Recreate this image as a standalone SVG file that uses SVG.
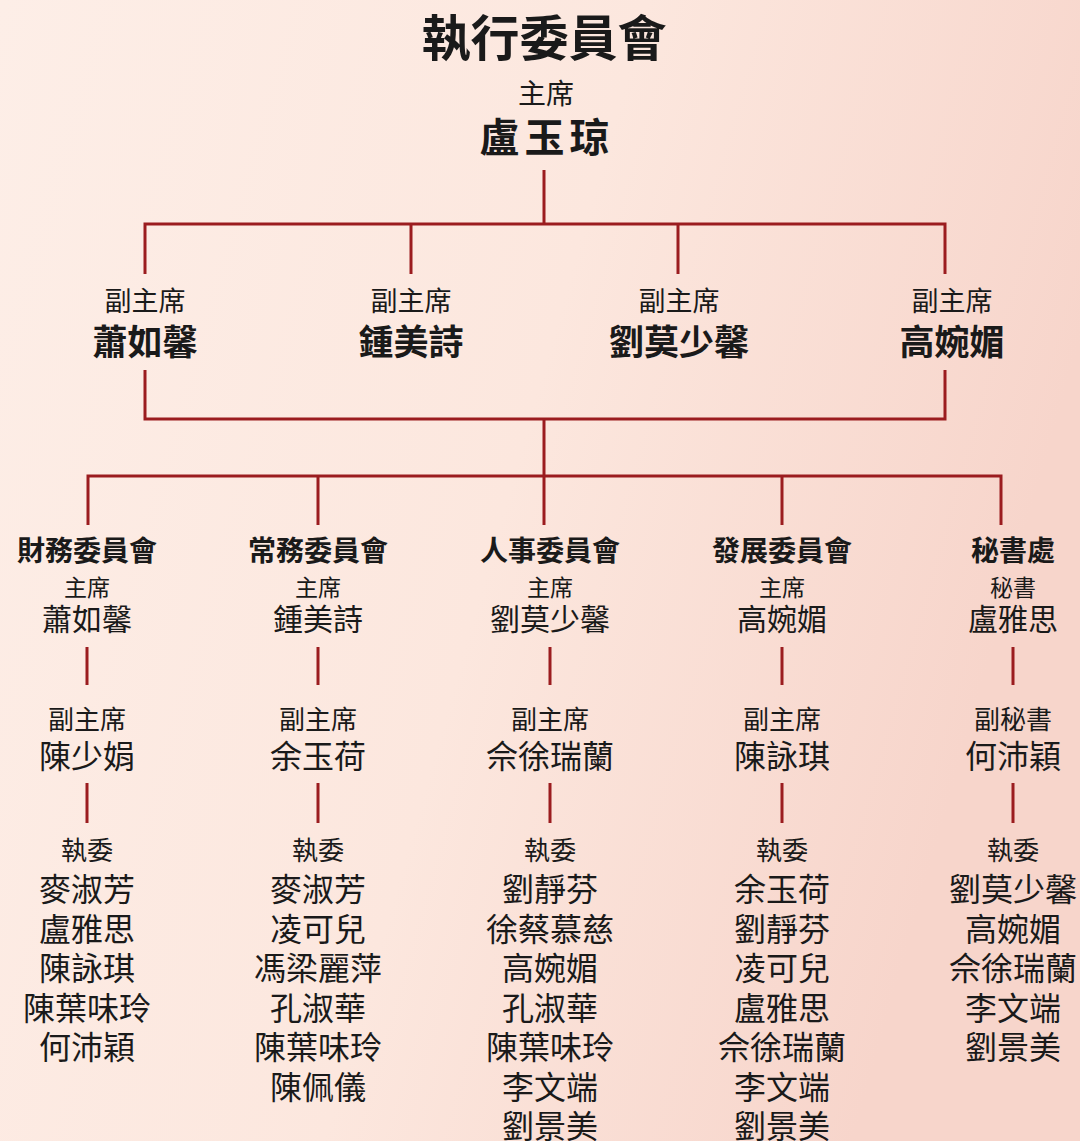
<svg xmlns="http://www.w3.org/2000/svg" width="1080" height="1141" viewBox="0 0 1080 1141">
<defs>
<linearGradient id="bg" x1="0" y1="0" x2="1" y2="0.3">
<stop offset="0" stop-color="#fdeee7"/>
<stop offset="0.55" stop-color="#fce7de"/>
<stop offset="1" stop-color="#f7d5cb"/>
</linearGradient>
<style>
text{font-family:"Noto Sans CJK TC","Noto Sans CJK SC",sans-serif;fill:#1a1a1a;text-anchor:middle}
.t{font-size:49px;font-weight:700}
.r1{font-size:28px}
.n1{font-size:40px;font-weight:700;letter-spacing:5px}
.r2{font-size:27px}
.n2{font-size:35px;font-weight:700}
.h{font-size:28px;font-weight:700}
.r3{font-size:23px}
.n3{font-size:30px}
.r4{font-size:26px}
.n4{font-size:32px}
.ln{stroke:#9b1c1f;stroke-width:3;fill:none}
</style>
</defs>
<rect width="1080" height="1141" fill="url(#bg)"/>
<g id="connectors" class="ln">
<path d="M544 170V224M145 274V224H945V274M411 224V274M678 224V274"/>
<path d="M145 370V419H945V370M544 419V525"/>
<path d="M88 525V476H1001V525M318 476V525"/>
<path d="M782 476V525"/>
<path d="M87 647V685M318 647V685M550 647V685M782 647V685M1013 647V685"/>
<path d="M87 783V823M318 783V823M550 783V823M782 783V823M1013 783V823"/>
</g>
<g id="title"><text class="t" x="544" y="56">執行委員會</text></g>
<g id="chair"><text class="r1" x="546" y="104">主席</text><text class="n1" x="547" y="152">盧玉琼</text></g>
<g id="vp1"><text class="r2" x="145" y="311">副主席</text><text class="n2" x="145" y="355">蕭如馨</text></g>
<g id="vp2"><text class="r2" x="411" y="311">副主席</text><text class="n2" x="411" y="355">鍾美詩</text></g>
<g id="vp3"><text class="r2" x="679" y="311">副主席</text><text class="n2" x="679" y="355">劉莫少馨</text></g>
<g id="vp4"><text class="r2" x="952" y="311">副主席</text><text class="n2" x="952" y="355">高婉媚</text></g>
<g id="finance">
<text class="h" x="87" y="561">財務委員會</text>
<text class="r3" x="87" y="596">主席</text>
<text class="n3" x="87" y="630">蕭如馨</text>
<text class="r4" x="87" y="729">副主席</text>
<text class="n4" x="87" y="768">陳少娟</text>
<text class="r4" x="87" y="860">執委</text>
<text class="n4" x="87" y="901">麥淑芳</text>
<text class="n4" x="87" y="940.5">盧雅思</text>
<text class="n4" x="87" y="980">陳詠琪</text>
<text class="n4" x="87" y="1019.5">陳葉味玲</text>
<text class="n4" x="87" y="1059">何沛穎</text>
</g>
<g id="standing">
<text class="h" x="318" y="561">常務委員會</text>
<text class="r3" x="318" y="596">主席</text>
<text class="n3" x="318" y="630">鍾美詩</text>
<text class="r4" x="318" y="729">副主席</text>
<text class="n4" x="318" y="768">余玉荷</text>
<text class="r4" x="318" y="860">執委</text>
<text class="n4" x="318" y="901">麥淑芳</text>
<text class="n4" x="318" y="940.5">凌可兒</text>
<text class="n4" x="318" y="980">馮梁麗萍</text>
<text class="n4" x="318" y="1019.5">孔淑華</text>
<text class="n4" x="318" y="1059">陳葉味玲</text>
<text class="n4" x="318" y="1098.5">陳佩儀</text>
</g>
<g id="personnel">
<text class="h" x="550" y="561">人事委員會</text>
<text class="r3" x="550" y="596">主席</text>
<text class="n3" x="550" y="630">劉莫少馨</text>
<text class="r4" x="550" y="729">副主席</text>
<text class="n4" x="550" y="768">佘徐瑞蘭</text>
<text class="r4" x="550" y="860">執委</text>
<text class="n4" x="550" y="901">劉靜芬</text>
<text class="n4" x="550" y="940.5">徐蔡慕慈</text>
<text class="n4" x="550" y="980">高婉媚</text>
<text class="n4" x="550" y="1019.5">孔淑華</text>
<text class="n4" x="550" y="1059">陳葉味玲</text>
<text class="n4" x="550" y="1098.5">李文端</text>
<text class="n4" x="550" y="1138">劉景美</text>
</g>
<g id="development">
<text class="h" x="782" y="561">發展委員會</text>
<text class="r3" x="782" y="596">主席</text>
<text class="n3" x="782" y="630">高婉媚</text>
<text class="r4" x="782" y="729">副主席</text>
<text class="n4" x="782" y="768">陳詠琪</text>
<text class="r4" x="782" y="860">執委</text>
<text class="n4" x="782" y="901">余玉荷</text>
<text class="n4" x="782" y="940.5">劉靜芬</text>
<text class="n4" x="782" y="980">凌可兒</text>
<text class="n4" x="782" y="1019.5">盧雅思</text>
<text class="n4" x="782" y="1059">佘徐瑞蘭</text>
<text class="n4" x="782" y="1098.5">李文端</text>
<text class="n4" x="782" y="1138">劉景美</text>
</g>
<g id="secretariat">
<text class="h" x="1013" y="561">秘書處</text>
<text class="r3" x="1013" y="596">秘書</text>
<text class="n3" x="1013" y="630">盧雅思</text>
<text class="r4" x="1013" y="729">副秘書</text>
<text class="n4" x="1013" y="768">何沛穎</text>
<text class="r4" x="1013" y="860">執委</text>
<text class="n4" x="1013" y="901">劉莫少馨</text>
<text class="n4" x="1013" y="940.5">高婉媚</text>
<text class="n4" x="1013" y="980">佘徐瑞蘭</text>
<text class="n4" x="1013" y="1019.5">李文端</text>
<text class="n4" x="1013" y="1059">劉景美</text>
</g>
</svg>
